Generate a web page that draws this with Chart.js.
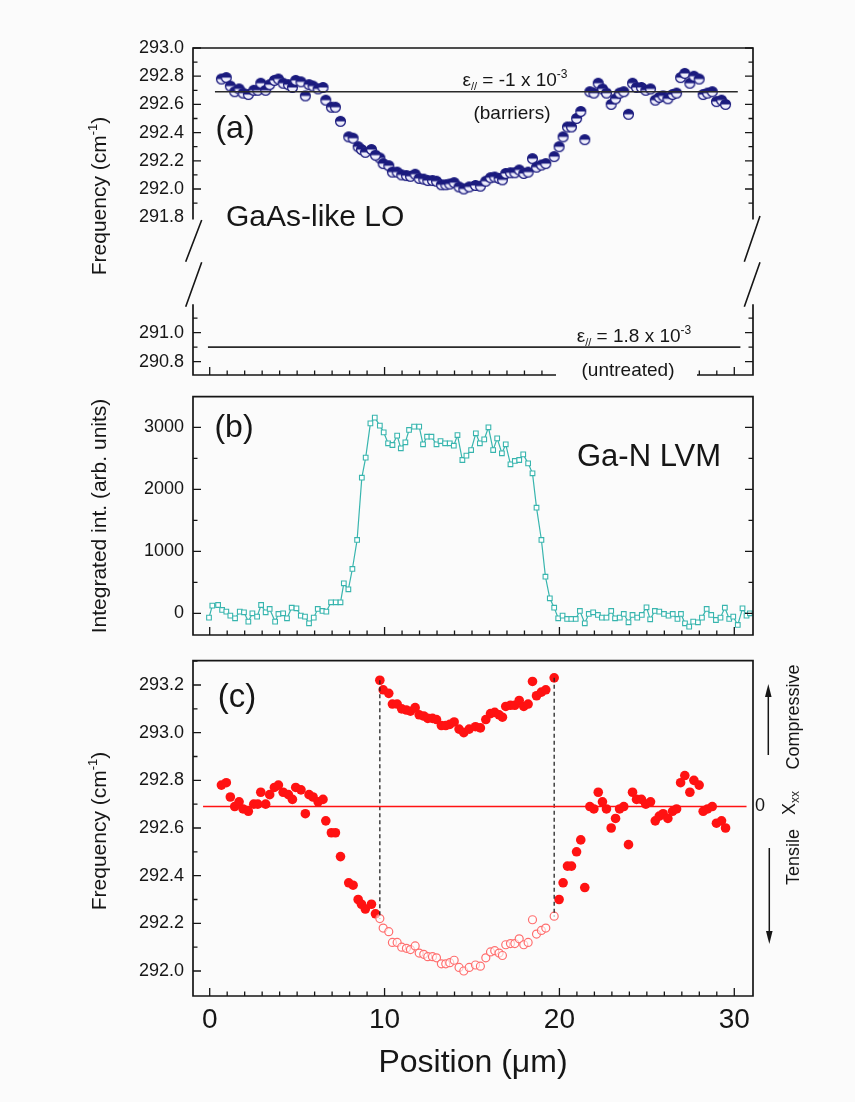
<!DOCTYPE html>
<html>
<head>
<meta charset="utf-8">
<script src="https://cdn.jsdelivr.net/npm/chart.js@4.4.1/dist/chart.umd.min.js"></script>
<style>
  html, body { margin: 0; padding: 0; background: #fbfbfb; }
  #wrap { position: relative; width: 855px; height: 1102px; overflow: hidden; }
  #wrap canvas { position: absolute; left: 0; top: 0; }
</style>
</head>
<body>
<div id="wrap">
  <canvas id="cA1" width="855" height="1102"></canvas>
  <canvas id="cA2" width="855" height="1102"></canvas>
  <canvas id="cB" width="855" height="1102"></canvas>
  <canvas id="cC" width="855" height="1102"></canvas>
</div>
<script>
// ---- data ----
// GaAs-like LO frequency (cm-1) vs position (um): outside the N-rich stripe
var posLeft = [0.67,0.95,1.18,1.43,1.68,1.91,2.21,2.52,2.75,2.92,3.2,3.43,3.7,3.93,4.2,4.5,4.73,4.92,5.22,5.47,5.68,5.91,6.2,6.48,6.64,6.96,7.19,7.48,7.95,8.2,8.49,8.68,8.9,9.25,9.48];
var freqLeft = [292.78,292.79,292.73,292.69,292.71,292.68,292.67,292.70,292.70,292.75,292.70,292.74,292.77,292.78,292.75,292.74,292.72,292.77,292.76,292.66,292.74,292.73,292.71,292.72,292.63,292.58,292.58,292.48,292.37,292.36,292.30,292.28,292.26,292.28,292.24];
// inside the stripe: measured (open) and corrected (filled, panel c)
var posMid = [9.73,9.92,10.24,10.45,10.72,10.98,11.25,11.48,11.75,11.98,12.24,12.47,12.74,12.97,13.25,13.5,13.73,13.98,14.26,14.53,14.84,15.2,15.48,15.79,16.06,16.3,16.55,16.74,16.93,17.2,17.45,17.7,17.96,18.21,18.46,18.69,18.97,19.22,19.7];
var freqMid = [292.22,292.18,292.165,292.12,292.12,292.10,292.095,292.09,292.105,292.075,292.07,292.06,292.06,292.055,292.03,292.03,292.035,292.045,292.015,292.0,292.015,292.025,292.02,292.055,292.08,292.085,292.075,292.065,292.11,292.115,292.115,292.135,292.11,292.12,292.215,292.155,292.17,292.18,292.23];
var freqMidCorr = [293.22,293.18,293.165,293.12,293.12,293.10,293.095,293.09,293.105,293.075,293.07,293.06,293.06,293.055,293.03,293.03,293.035,293.045,293.015,293.0,293.015,293.025,293.02,293.055,293.08,293.085,293.075,293.065,293.11,293.115,293.115,293.135,293.11,293.12,293.215,293.155,293.17,293.18,293.23];
var posRight = [19.98,20.21,20.46,20.69,20.98,21.22,21.45,21.74,21.97,22.22,22.46,22.69,22.96,23.21,23.44,23.68,23.95,24.18,24.41,24.69,24.94,25.21,25.48,25.71,25.93,26.2,26.47,26.7,26.93,27.17,27.46,27.69,27.99,28.22,28.47,28.74,28.98,29.27,29.5];
var freqRight = [292.30,292.37,292.44,292.44,292.50,292.55,292.35,292.69,292.68,292.75,292.71,292.68,292.60,292.64,292.68,292.69,292.53,292.75,292.72,292.72,292.70,292.71,292.63,292.65,292.66,292.64,292.67,292.68,292.79,292.82,292.75,292.80,292.78,292.67,292.68,292.69,292.62,292.63,292.60];

// Ga-N LVM integrated intensity (arb. units)
var posB = [-0.04,0.15,0.48,0.71,0.95,1.18,1.45,1.72,1.96,2.21,2.44,2.71,2.94,3.2,3.43,3.74,3.93,4.2,4.42,4.69,4.96,5.21,5.45,5.68,5.95,6.18,6.45,6.67,6.94,7.21,7.48,7.67,7.93,8.16,8.43,8.7,8.92,9.19,9.44,9.73,9.95,10.2,10.45,10.72,10.93,11.19,11.4,11.69,11.98,12.2,12.43,12.68,12.97,13.2,13.46,13.73,13.96,14.17,14.45,14.68,14.95,15.22,15.45,15.7,15.94,16.21,16.44,16.71,16.93,17.2,17.45,17.7,17.93,18.21,18.46,18.69,18.97,19.2,19.45,19.7,19.93,20.18,20.44,20.68,20.93,21.17,21.45,21.68,21.93,22.2,22.43,22.69,22.96,23.18,23.45,23.68,23.95,24.18,24.45,24.71,24.98,25.19,25.46,25.71,25.98,26.24,26.48,26.75,26.95,27.18,27.42,27.65,27.92,28.15,28.42,28.68,28.95,29.21,29.46,29.71,29.94,30.2,30.47,30.7,30.89];
var intB = [-70,124,134,54,27,-38,-81,27,16,-134,0,-54,134,16,70,-134,-11,0,-81,91,81,-38,-54,-161,-70,70,38,27,177,177,177,484,387,715,1183,2188,2511,3064,3156,3027,2919,2742,2715,2866,2661,2758,2957,3011,3011,2726,2849,2849,2726,2779,2742,2742,2704,2876,2473,2543,2634,2903,2742,2806,3000,2634,2822,2581,2726,2403,2457,2473,2564,2419,2258,1704,1183,591,242,91,-81,-38,-91,-91,-91,38,-161,-11,16,-27,-70,-70,38,-81,-70,-11,-145,-27,-70,-27,97,-97,38,27,-11,-38,-11,-91,-11,-161,-215,-134,-145,-70,70,-27,-108,-70,91,-91,-54,-188,81,-38,0];

// reference lines
var barrierFreq = 292.69, barrierLineX = [0.3, 30.2];
var untreatedFreq = 290.9, untreatedLineX = [-0.1, 30.35];
var zeroLineX = [-0.38, 30.7];

// axis ticks
var xMajor = [0, 10, 20, 30];
var aTopMajor = [291.8, 292.0, 292.2, 292.4, 292.6, 292.8, 293.0];
var aBotMajor = [290.8, 291.0];
var bMajor = [0, 1000, 2000, 3000];
var cMajor = [292.0, 292.2, 292.4, 292.6, 292.8, 293.0, 293.2];

// ---- layout ----
var W = 855, H = 1102;
var FRAME_L = 193, FRAME_R = 753;
var X_MIN = -0.955, X_MAX = 31.07;
var X_AXIS_H = 50;
var FONT = '"Liberation Sans", Arial, Helvetica, sans-serif';
var INK = "#161616";
var NAVY = "#1b1b7e", TEAL = "#38b5ae", RED = "#ff1212", PINK = "#ff6f6f";

function steps(a, b, s) { var r = []; for (var v = a; v <= b + 1e-9; v += s) r.push(Math.round(v * 1000) / 1000); return r; }
function minorOf(list, major) { return list.filter(function(v) { return major.indexOf(v) < 0; }); }
var xMinor = minorOf(steps(1, 29, 1), xMajor);

function pts(xs, ys) { return xs.map(function(x, i) { return { x: x, y: ys[i] }; }); }

function halfMarker(r, color) {
  var s = Math.ceil(2 * r + 3), c = document.createElement("canvas");
  c.width = c.height = s;
  var g = c.getContext("2d"), m = s / 2;
  g.beginPath(); g.arc(m, m, r, 0, 2 * Math.PI); g.fillStyle = "#eeeefc"; g.fill();
  g.beginPath(); g.arc(m, m, r, Math.PI, 2 * Math.PI); g.closePath(); g.fillStyle = color; g.fill();
  g.beginPath(); g.arc(m, m, r, 0, 2 * Math.PI); g.strokeStyle = color; g.lineWidth = 1.3; g.stroke();
  return c;
}
var halfImg = halfMarker(4.9, NAVY);

function lineDs(data, color, width, dash) {
  return { data: data, showLine: true, borderColor: color, borderWidth: width, borderDash: dash || [],
           pointRadius: 0, fill: false };
}
function markDs(data, opt) {
  return Object.assign({ data: data, showLine: false }, opt);
}

function xScale(show) {
  var s = {
    type: "linear", min: X_MIN, max: X_MAX, display: show,
    grid: { display: false, drawTicks: false }, border: { display: false },
    ticks: { display: show, color: INK, font: { family: FONT, size: 28 }, padding: 7, maxRotation: 0, autoSkip: false },
    afterBuildTicks: function(sc) { sc.ticks = xMajor.map(function(v) { return { value: v }; }); }
  };
  if (show) s.afterFit = function(sc) { sc.height = X_AXIS_H; };
  return s;
}
function yScale(min, max, major, dec) {
  return {
    type: "linear", min: min, max: max,
    grid: { display: false, drawTicks: false }, border: { display: false },
    ticks: { color: INK, font: { family: FONT, size: 18 }, padding: 9, autoSkip: false,
             callback: function(v) { return Number(v).toFixed(dec); } },
    afterBuildTicks: function(s) { s.ticks = major.map(function(v) { return { value: v }; }); },
    afterFit: function(s) { s.width = FRAME_L; }
  };
}
function opts(g) {
  return {
    responsive: false, animation: false, devicePixelRatio: 1, events: [],
    layout: { padding: { left: 0, right: W - FRAME_R, top: g.top, bottom: H - g.bottom - (g.xLabels ? X_AXIS_H : 0) } },
    plugins: { legend: { display: false }, tooltip: { enabled: false } },
    scales: { x: xScale(g.xLabels), y: yScale(g.min, g.max, g.major, g.dec) }
  };
}

// frame with inward ticks
function framePlugin(f) {
  return {
    id: "frame",
    afterDraw: function(chart) {
      var ctx = chart.ctx, a = chart.chartArea, xs = chart.scales.x, ys = chart.scales.y;
      ctx.save();
      ctx.strokeStyle = INK; ctx.lineWidth = 1.7; ctx.lineCap = "square";
      ctx.beginPath();
      if (f.top) { ctx.moveTo(a.left, a.top); ctx.lineTo(a.right, a.top); }
      if (f.bottom) { ctx.moveTo(a.left, a.bottom); ctx.lineTo(a.right, a.bottom); }
      ctx.moveTo(a.left, a.top); ctx.lineTo(a.left, a.bottom);
      ctx.moveTo(a.right, a.top); ctx.lineTo(a.right, a.bottom);
      ctx.stroke();
      ctx.lineWidth = 1.3; ctx.lineCap = "butt";
      ctx.beginPath();
      [[f.yMajor, 8], [f.yMinor, 4.5]].forEach(function(t) {
        t[0].forEach(function(v) {
          var p = ys.getPixelForValue(v);
          if (p < a.top - 1 || p > a.bottom - 2) return;
          ctx.moveTo(a.left, p); ctx.lineTo(a.left + t[1], p);
          if (f.rightTicks) { ctx.moveTo(a.right, p); ctx.lineTo(a.right - t[1], p); }
        });
      });
      if (f.bottom) {
        [[xMajor, 8], [xMinor, 4.5]].forEach(function(t) {
          t[0].forEach(function(v) {
            var p = xs.getPixelForValue(v);
            ctx.moveTo(p, a.bottom); ctx.lineTo(p, a.bottom - t[1]);
          });
        });
      }
      ctx.stroke();
      ctx.restore();
    }
  };
}

// text helpers
function rich(ctx, parts, x, y, align, rot) {
  ctx.save();
  ctx.translate(x, y);
  if (rot) ctx.rotate(rot);
  ctx.fillStyle = INK; ctx.textBaseline = "alphabetic"; ctx.textAlign = "left";
  var w = 0;
  parts.forEach(function(p) { ctx.font = p[1] + "px " + FONT; w += ctx.measureText(p[0]).width; });
  var cx = align === "center" ? -w / 2 : (align === "right" ? -w : 0);
  parts.forEach(function(p) {
    ctx.font = p[1] + "px " + FONT;
    ctx.fillText(p[0], cx, p[2] || 0);
    cx += ctx.measureText(p[0]).width;
  });
  ctx.restore();
}
function freqTitle(ctx, cy) {
  rich(ctx, [["Frequency (cm", 21], ["-1", 13, -9], [")", 21]], 106, cy, "center", -Math.PI / 2);
}
function seg(ctx, x1, y1, x2, y2) { ctx.moveTo(x1, y1); ctx.lineTo(x2, y2); }

// ---- panel (a), upper part ----
new Chart(document.getElementById("cA1"), {
  type: "scatter",
  data: { datasets: [
    lineDs(pts(barrierLineX, [barrierFreq, barrierFreq]), "#2a2a2a", 1.6),
    markDs(pts(posLeft, freqLeft), { pointStyle: halfImg }),
    markDs(pts(posMid, freqMid), { pointStyle: halfImg }),
    markDs(pts(posRight, freqRight), { pointStyle: halfImg })
  ] },
  options: opts({ top: 48, bottom: 218.6, min: 291.79, max: 293.0, major: aTopMajor, dec: 1, xLabels: false }),
  plugins: [
    framePlugin({ top: true, bottom: false, rightTicks: true, yMajor: aTopMajor, yMinor: minorOf(steps(291.8, 293.0, 0.1), aTopMajor) }),
    { id: "notesA1", afterDraw: function(chart) {
      var ctx = chart.ctx;
      ctx.save();
      ctx.fillStyle = INK; ctx.textAlign = "center"; ctx.textBaseline = "middle";
      ctx.font = "32px " + FONT; ctx.fillText("(a)", 235, 129);
      ctx.textAlign = "left"; ctx.textBaseline = "alphabetic";
      ctx.font = "30px " + FONT; ctx.fillText("GaAs-like LO", 226, 226);
      ctx.restore();
      rich(ctx, [["\u03b5", 19], ["//", 11, 4], [" = -1 x 10", 19], ["-3", 12, -8]], 515, 86, "center");
      rich(ctx, [["(barriers)", 19]], 512, 119, "center");
      freqTitle(ctx, 196);
      // axis break marks
      ctx.save();
      ctx.strokeStyle = INK; ctx.lineWidth = 1.6;
      ctx.beginPath();
      seg(ctx, 201.7, 220, 185.7, 261.7); seg(ctx, 201.7, 262.3, 185.7, 306.7);
      seg(ctx, 760, 216, 744.3, 261.7); seg(ctx, 760, 262.3, 744.3, 306.7);
      ctx.stroke();
      ctx.restore();
    } }
  ]
});

// ---- panel (a), lower part ----
new Chart(document.getElementById("cA2"), {
  type: "scatter",
  data: { datasets: [
    lineDs(pts(untreatedLineX, [untreatedFreq, untreatedFreq]), "#2a2a2a", 1.6)
  ] },
  options: opts({ top: 305, bottom: 375, min: 290.708, max: 291.191, major: aBotMajor, dec: 1, xLabels: false }),
  plugins: [
    framePlugin({ top: false, bottom: true, rightTicks: true, yMajor: aBotMajor, yMinor: [290.9, 291.1] }),
    { id: "notesA2", afterDraw: function(chart) {
      var ctx = chart.ctx;
      rich(ctx, [["\u03b5", 19], ["//", 11, 4], [" = 1.8 x 10", 19], ["-3", 12, -8]], 634, 342, "center");
      ctx.save();
      ctx.fillStyle = "#fbfbfb"; ctx.fillRect(556, 366, 141, 14);
      ctx.restore();
      rich(ctx, [["(untreated)", 19]], 628, 376, "center");
    } }
  ]
});

// ---- panel (b) ----
new Chart(document.getElementById("cB"), {
  type: "scatter",
  data: { datasets: [
    { data: pts(posB, intB), showLine: true, borderColor: TEAL, borderWidth: 1.2,
      pointStyle: "rect", pointRadius: 3.3, pointBorderWidth: 1.1,
      pointBorderColor: TEAL, pointBackgroundColor: "#ffffff" }
  ] },
  options: opts({ top: 396.7, bottom: 635, min: -350, max: 3494, major: bMajor, dec: 0, xLabels: false }),
  plugins: [
    framePlugin({ top: true, bottom: true, rightTicks: true, yMajor: bMajor, yMinor: [500, 1500, 2500] }),
    { id: "notesB", afterDraw: function(chart) {
      var ctx = chart.ctx;
      ctx.save();
      ctx.fillStyle = INK; ctx.textAlign = "center"; ctx.textBaseline = "middle";
      ctx.font = "32px " + FONT; ctx.fillText("(b)", 234, 428);
      ctx.textAlign = "left"; ctx.textBaseline = "alphabetic";
      ctx.font = "31px " + FONT; ctx.fillText("Ga-N LVM", 577, 466);
      ctx.restore();
      rich(ctx, [["Integrated int. (arb. units)", 21]], 106, 516, "center", -Math.PI / 2);
    } }
  ]
});

// ---- panel (c) ----
new Chart(document.getElementById("cC"), {
  type: "scatter",
  data: { datasets: [
    lineDs(pts(zeroLineX, [barrierFreq, barrierFreq]), RED, 1.6),
    lineDs([{ x: posMid[0], y: freqMidCorr[0] }, { x: posMid[0], y: freqMid[0] }], "#222", 1.3, [4, 3]),
    lineDs([{ x: posMid[posMid.length - 1], y: freqMidCorr[freqMidCorr.length - 1] },
            { x: posMid[posMid.length - 1], y: freqMid[freqMid.length - 1] }], "#222", 1.3, [4, 3]),
    markDs(pts(posMid, freqMid), { pointStyle: "circle", pointRadius: 4, pointBorderWidth: 1.2,
      pointBorderColor: PINK, pointBackgroundColor: "rgba(255,255,255,0.6)" }),
    markDs(pts(posLeft, freqLeft), { pointRadius: 4.8, pointBorderWidth: 0, pointBackgroundColor: RED, pointBorderColor: RED }),
    markDs(pts(posMid, freqMidCorr), { pointRadius: 4.8, pointBorderWidth: 0, pointBackgroundColor: RED, pointBorderColor: RED }),
    markDs(pts(posRight, freqRight), { pointRadius: 4.8, pointBorderWidth: 0, pointBackgroundColor: RED, pointBorderColor: RED })
  ] },
  options: opts({ top: 660.7, bottom: 996, min: 291.895, max: 293.302, major: cMajor, dec: 1, xLabels: true }),
  plugins: [
    framePlugin({ top: true, bottom: true, rightTicks: false, yMajor: cMajor, yMinor: minorOf(steps(291.9, 293.3, 0.1), cMajor) }),
    { id: "notesC", afterDraw: function(chart) {
      var ctx = chart.ctx;
      ctx.save();
      ctx.fillStyle = INK; ctx.textAlign = "center"; ctx.textBaseline = "middle";
      ctx.font = "33px " + FONT; ctx.fillText("(c)", 237, 698);
      ctx.restore();
      freqTitle(ctx, 831);
      rich(ctx, [["Position (\u03bcm)", 32]], 473, 1072, "center");
      // strain scale on the right
      rich(ctx, [["0", 18]], 755, 811, "left");
      rich(ctx, [["Compressive", 18]], 799, 717, "center", -Math.PI / 2);
      rich(ctx, [["X", 18], ["xx", 12, 4]], 795, 803, "center", -Math.PI / 2);
      rich(ctx, [["Tensile", 18]], 799, 857, "center", -Math.PI / 2);
      ctx.save();
      ctx.strokeStyle = INK; ctx.fillStyle = INK; ctx.lineWidth = 1.5;
      ctx.beginPath(); seg(ctx, 768.3, 755, 768.3, 694); seg(ctx, 769.3, 848, 769.3, 934); ctx.stroke();
      ctx.beginPath(); ctx.moveTo(768.3, 684); ctx.lineTo(765, 697); ctx.lineTo(771.6, 697); ctx.closePath(); ctx.fill();
      ctx.beginPath(); ctx.moveTo(769.3, 944); ctx.lineTo(766, 931); ctx.lineTo(772.6, 931); ctx.closePath(); ctx.fill();
      ctx.restore();
    } }
  ]
});
</script>
</body>
</html>
